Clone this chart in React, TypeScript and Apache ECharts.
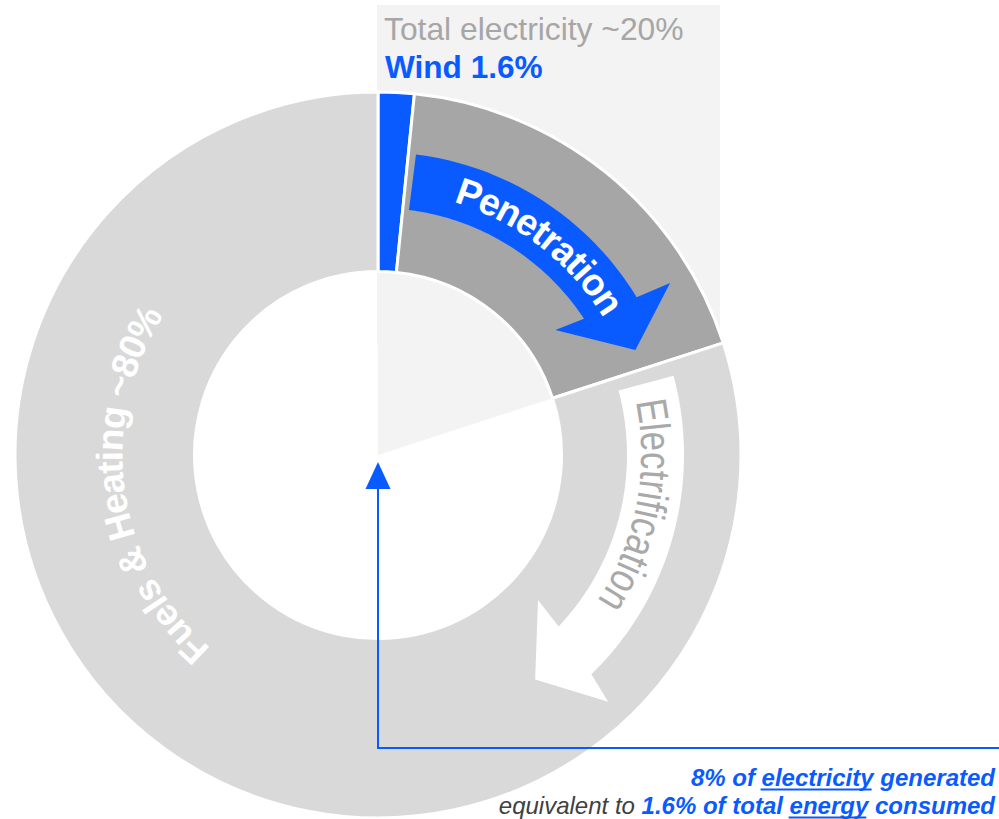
import React, { useEffect, useRef } from 'react';
import * as echarts from 'echarts';

// ---------------- data ----------------
const SEGMENT_NAMES = ['Wind', 'Other electricity', 'Fuels & Heating'];
const SEGMENT_VALUES = [1.6, 18.4, 80];
const INNER_NAMES = ['Electricity', 'Rest'];
const INNER_VALUES = [20, 80];
const TITLE_TEXT = 'Total electricity ~20%';
const WIND_TEXT = 'Wind 1.6%';
const PENETRATION_TEXT = 'Penetration';
const ELECTRIFICATION_TEXT = 'Electrification';
const FUELS_TEXT = 'Fuels & Heating ~80%';
const NOTE_LINE_1 = [
  { text: '8% of ', kind: 'blue' },
  { text: 'electricity', kind: 'blueU' },
  { text: ' generated', kind: 'blue' },
];
const NOTE_LINE_2 = [
  { text: 'equivalent to ', kind: 'dark' },
  { text: '1.6% of total ', kind: 'blue' },
  { text: 'energy', kind: 'blueU' },
  { text: ' consumed', kind: 'blue' },
];

// ---------------- style / layout ----------------
const BLUE = '#0a5bff';
const DARK_GRAY = '#a6a6a6';
const LIGHT_GRAY = '#d9d9d9';
const PALE = '#f3f3f3';
const SEGMENT_COLORS = [BLUE, DARK_GRAY, LIGHT_GRAY];
const FONT = '"Liberation Sans", Arial, Helvetica, sans-serif';
const CX = 378;
const CY = 455;
const R_IN = 183.5;
const R_OUT = 363;

const rad = (d: number) => (d * Math.PI) / 180;
const pt = (r: number, deg: number) => [CX + r * Math.sin(rad(deg)), CY - r * Math.cos(rad(deg))];
const arc = (r: number, d0: number, d1: number, n = 48) =>
  Array.from({ length: n + 1 }, (_, i) => pt(r, d0 + ((d1 - d0) * i) / n));

let measureCtx: CanvasRenderingContext2D | null = null;
function measure(text: string, weight: string, size: number, style = 'normal') {
  if (!measureCtx) measureCtx = document.createElement('canvas').getContext('2d');
  measureCtx!.font = `${style} ${weight} ${size}px ${FONT}`;
  return measureCtx!.measureText(text).width;
}

function arrowPolygon(a: any, color: string) {
  const points = [
    ...arc(a.rOut, a.start, a.baseOutA),
    pt(a.wingOutR, a.wingOutA),
    pt(a.tipR, a.tipA),
    pt(a.wingInR, a.wingInA),
    ...arc(a.rIn, a.baseInA, a.start),
  ];
  return { type: 'polygon', z: 10, silent: true, shape: { points }, style: { fill: color } };
}

function curvedText(text: string, o: any) {
  const chars = Array.from(text);
  const ws = chars.map((c) => measure(c, o.weight, o.size));
  const total = ws.reduce((a, b) => a + b, 0);
  const c2c = total - ws[0] / 2 - ws[ws.length - 1] / 2;
  const rb = o.rMid - 0.35 * o.size;
  const k = (rad(o.a1 - o.a0) * rb) / c2c;
  const els: any[] = [];
  let s = 0;
  chars.forEach((ch, i) => {
    const off = s + ws[i] / 2 - ws[0] / 2;
    s += ws[i];
    if (ch === ' ') return;
    const ang = rad(o.a0) + (off * k) / rb;
    els.push({
      type: 'text',
      z: 12,
      silent: true,
      x: CX + o.rMid * Math.sin(ang),
      y: CY - o.rMid * Math.cos(ang),
      rotation: -ang,
      scaleX: o.glyphScale != null ? o.glyphScale : k,
      style: {
        text: ch,
        fill: o.color,
        fontFamily: FONT,
        fontWeight: o.weight,
        fontSize: o.size,
        align: 'center',
        verticalAlign: 'middle',
      },
    });
  });
  return els;
}

function noteLine(segs: any[], right: number, baseline: number, size: number) {
  const styleOf = (k: string) =>
    k === 'dark'
      ? { weight: 'normal', color: '#404040' }
      : { weight: 'bold', color: BLUE };
  const widths = segs.map((s) => measure(s.text, styleOf(s.kind).weight, size, 'italic'));
  const total = widths.reduce((a, b) => a + b, 0);
  let x = right - total;
  const els: any[] = [];
  segs.forEach((s, i) => {
    const st = styleOf(s.kind);
    els.push({
      type: 'text',
      z: 12,
      silent: true,
      x,
      y: baseline - 0.3465 * size,
      style: {
        text: s.text,
        fill: st.color,
        fontFamily: FONT,
        fontWeight: st.weight,
        fontStyle: 'italic',
        fontSize: size,
        align: 'left',
        verticalAlign: 'middle',
      },
    });
    if (s.kind === 'blueU') {
      els.push({
        type: 'line',
        z: 12,
        silent: true,
        shape: { x1: x - 1, y1: baseline + 3.5, x2: x + widths[i] - 2, y2: baseline + 3.5 },
        style: { stroke: BLUE, lineWidth: 2 },
      });
    }
    x += widths[i];
  });
  return els;
}

function buildOption() {
  const graphic: any[] = [
    { type: 'rect', z: 0, silent: true, shape: { x: 377, y: 5, width: 343, height: 340 }, style: { fill: PALE } },
    {
      type: 'text', z: 12, silent: true, x: 384, y: 40 - 0.3465 * 31.8,
      style: { text: TITLE_TEXT, fill: DARK_GRAY, fontFamily: FONT, fontSize: 31.8, align: 'left', verticalAlign: 'middle' },
    },
    {
      type: 'text', z: 12, silent: true, x: 385, y: 78.3 - 0.3465 * 31.6,
      style: { text: WIND_TEXT, fill: BLUE, fontFamily: FONT, fontWeight: 'bold', fontSize: 31.6, align: 'left', verticalAlign: 'middle' },
    },
    arrowPolygon(
      { start: 7.2, rIn: 247, rOut: 303, baseOutA: 58.6, baseInA: 56.5, wingOutR: 339, wingOutA: 59.5, tipR: 278, tipA: 67.8, wingInR: 217, wingInA: 54.8 },
      BLUE
    ),
    arrowPolygon(
      { start: 75, rIn: 249, rOut: 306, baseOutA: 135.8, baseInA: 133.5, wingOutR: 337.5, wingOutA: 137, tipR: 274, tipA: 145, wingInR: 216, wingInA: 132.2 },
      '#ffffff'
    ),
    ...curvedText(PENETRATION_TEXT, { rMid: 277, a0: 19.3, a1: 56.3, size: 38, weight: 'bold', color: '#ffffff', glyphScale: 0.98 }),
    ...curvedText(ELECTRIFICATION_TEXT, { rMid: 278, a0: 80.8, a1: 121.5, size: 43, weight: 'normal', color: '#a9a9a9' }),
    ...curvedText(FUELS_TEXT, { rMid: 268, a0: 223.4, a1: 299.5, size: 37, weight: 'bold', color: '#ffffff', glyphScale: 1 }),
    {
      type: 'polyline', z: 12, silent: true,
      shape: { points: [[CX, CY + 33], [CX, 748], [999, 748]] },
      style: { stroke: BLUE, lineWidth: 2, fill: 'none' },
    },
    {
      type: 'polygon', z: 12, silent: true,
      shape: { points: [[CX, CY + 7], [CX - 12.5, CY + 34], [CX + 12.5, CY + 34]] },
      style: { fill: BLUE },
    },
    ...noteLine(NOTE_LINE_1, 995, 786, 24),
    ...noteLine(NOTE_LINE_2, 995, 814, 24),
  ];

  return {
    animation: false,
    backgroundColor: '#ffffff',
    graphic,
    series: [
      {
        type: 'pie',
        z: 1,
        silent: true,
        center: [CX, CY],
        radius: [0, R_IN],
        startAngle: 90,
        clockwise: true,
        label: { show: false },
        labelLine: { show: false },
        emphasis: { disabled: true },
        data: INNER_NAMES.map((n, i) => ({
          name: n,
          value: INNER_VALUES[i],
          itemStyle: { color: i === 0 ? PALE : 'rgba(255,255,255,0)' },
        })),
      },
      {
        type: 'pie',
        z: 2,
        silent: true,
        center: [CX, CY],
        radius: [R_IN, R_OUT],
        startAngle: 90,
        clockwise: true,
        label: { show: false },
        labelLine: { show: false },
        emphasis: { disabled: true },
        itemStyle: { borderColor: '#ffffff', borderWidth: 3 },
        data: SEGMENT_NAMES.map((n, i) => ({
          name: n,
          value: SEGMENT_VALUES[i],
          itemStyle: { color: SEGMENT_COLORS[i] },
        })),
      },
    ],
  };
}

export default function App() {
  const ref = useRef<HTMLDivElement>(null);
  useEffect(() => {
    const chart = echarts.init(ref.current!, null, { renderer: 'svg' });
    chart.setOption(buildOption() as any);
    return () => chart.dispose();
  }, []);
  return (
    <div
      ref={ref}
      style={{ position: 'fixed', left: 0, top: 0, width: 999, height: 819, background: '#ffffff' }}
    />
  );
}
